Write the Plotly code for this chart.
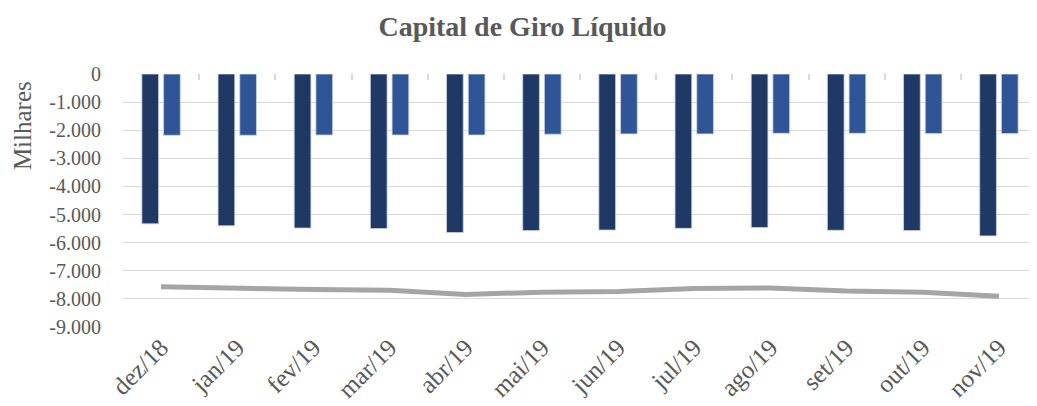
import plotly.graph_objects as go

# Monthly values in thousands (R$ mil)
MONTHS = ["dez/18", "jan/19", "fev/19", "mar/19", "abr/19", "mai/19",
          "jun/19", "jul/19", "ago/19", "set/19", "out/19", "nov/19"]
SERIES_DARK = [-5330, -5400, -5480, -5500, -5640, -5570,
               -5550, -5490, -5460, -5560, -5570, -5760]
SERIES_LIGHT = [-2180, -2180, -2170, -2170, -2170, -2140,
                -2130, -2130, -2110, -2110, -2120, -2120]
SERIES_LINE = [-7570, -7630, -7670, -7690, -7840, -7760,
               -7740, -7630, -7610, -7720, -7760, -7910]

Y_TICKS = [0, -1000, -2000, -3000, -4000, -5000, -6000, -7000, -8000, -9000]
Y_TICK_LABELS = ["0", "-1.000", "-2.000", "-3.000", "-4.000", "-5.000",
                 "-6.000", "-7.000", "-8.000", "-9.000"]

SERIF = "Liberation Serif, Times New Roman, serif"
TEXT_GREY = "#595959"
GRID = "#D9D9D9"

fig = go.Figure()
fig.add_trace(go.Bar(
    x=MONTHS, y=SERIES_DARK, name="Série 1",
    marker={"color": "#203864", "line": {"color": "#C9D3E8", "width": 0.8}},
))
fig.add_trace(go.Bar(
    x=MONTHS, y=SERIES_LIGHT, name="Série 2",
    marker={"color": "#2F5597", "line": {"color": "#C9D3E8", "width": 0.8}},
))
fig.add_trace(go.Scatter(
    x=MONTHS, y=SERIES_LINE, name="Série 3", mode="lines", xaxis="x2",
    line={"color": "#A5A5A5", "width": 5},
))

# the page body adds an 8px offset, so the figure is sized to the visible area
fig.update_layout(
    width=1029,
    height=398,
    margin={"l": 115, "r": 0, "t": 66, "b": 79, "autoexpand": False},
    paper_bgcolor="white",
    plot_bgcolor="white",
    showlegend=False,
    barmode="group",
    bargap=0.43,
    bargroupgap=0.23,
    font={"family": SERIF, "color": TEXT_GREY, "size": 18},
    title={
        "text": "<b>Capital de Giro Líquido</b>",
        "x": 0.5, "xref": "container", "xanchor": "center",
        "y": 0.955, "yref": "container", "yanchor": "middle",
        "font": {"family": SERIF, "size": 28, "color": TEXT_GREY},
    },
    xaxis={
        "type": "category",
        "automargin": False,
        "tickangle": -45,
        "showgrid": False,
        "showline": False,
        "ticks": "",
        "tickfont": {"size": 25, "color": TEXT_GREY},
    },
    xaxis2={
        "type": "category",
        "automargin": False,
        "overlaying": "x",
        "matches": "x",
        "side": "top",
        "showticklabels": False,
        "showgrid": False,
        "showline": False,
        "ticks": "inside",
        "tickson": "boundaries",
        "ticklen": 6,
        "tickwidth": 1.5,
        "tickcolor": GRID,
    },
    yaxis={
        "range": [-9000, 0],
        "automargin": False,
        "tickvals": Y_TICKS,
        "ticktext": Y_TICK_LABELS,
        "showgrid": True,
        "gridcolor": GRID,
        "gridwidth": 1.3,
        "zeroline": False,
        "showline": False,
        "ticklabelstandoff": 21,
        "tickfont": {"size": 20, "color": TEXT_GREY},
    },
    annotations=[{
        "text": "Milhares",
        "textangle": -90,
        "xref": "paper", "yref": "paper",
        "x": -0.1105, "y": 0.794,
        "xanchor": "center", "yanchor": "middle",
        "showarrow": False,
        "font": {"family": SERIF, "size": 25, "color": TEXT_GREY},
    }],
)

fig.write_html("out.html")
